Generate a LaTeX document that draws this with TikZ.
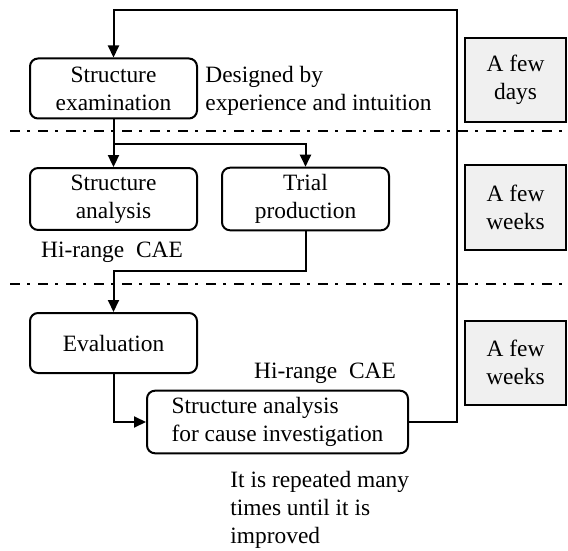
\documentclass[tikz,border=0pt]{standalone}
\usepackage{fontspec}
\setmainfont{Liberation Serif}
\usetikzlibrary{arrows.meta,positioning}
\definecolor{periodgray}{HTML}{F0F0F0}

\begin{document}
\begin{tikzpicture}[
  x=0.5pt, y=-0.5pt,
  block/.style={
    draw, line width=1pt, rounded corners=4pt, align=center,
    minimum width=83.5pt, minimum height=30pt, font=\fontsize{11.7pt}{14pt}\selectfont
  },
  period/.style={
    draw, line width=1pt, fill=periodgray, align=center,
    minimum width=50.5pt, minimum height=42pt, font=\fontsize{11.7pt}{14pt}\selectfont
  },
  note/.style={inner sep=0pt, align=left, font=\fontsize{11.7pt}{14pt}\selectfont},
  arrow/.style={-{Triangle[length=6pt,width=5.5pt]}, line width=1pt},
  phase/.style={line width=1pt, dash pattern=on 5pt off 3.5pt on 1.5pt off 4pt}
]
\useasboundingbox (0,0) rectangle (568,551);

% process blocks
\node[block] (exam) at (113.5,88.5) {Structure\\examination};
\node[block] (analysis) at (113.5,199) {Structure\\analysis};
\node[block, right=11.5pt of analysis] (trial) {Trial\\production};
\node[block] (eval) at (113.5,343) {Evaluation};
\node[block, align=left, minimum width=130.5pt] (cause) at (277.5,422) {Structure analysis\\for cause investigation};

% notes
\node[note, anchor=west] (intuition) at (205,91) {Designed by\\experience and intuition};
\node[note] (cae1) at (112,252) {Hi-range\enspace CAE};
\node[note] (cae2) at (325,373) {Hi-range\enspace CAE};
\node[note, anchor=west] (repeat) at (230,510) {It is repeated many\\times until it is\\improved};

% time scale
\node[period] (days) at (515.5,80) {A few\\days};
\node[period] (weeks1) at (515.5,207.5) {A few\\weeks};
\node[period] (weeks2) at (515.5,362.5) {A few\\weeks};

% phase borders
\draw[phase] (10,131) -- (568,131);
\draw[phase] (10,284) -- (568,284);

% flow
\coordinate (loop) at (457,10);
\coordinate (split) at (113.5,144);
\coordinate (merge) at (113.5,271);
\draw[arrow] (cause.east) -| (loop) -| (exam.north);
\draw[arrow] (exam) -- (analysis);
\draw[arrow] (split) -| (trial.north);
\draw[arrow] (trial.south) |- (merge) -- (eval.north);
\draw[arrow] (eval.south) |- (cause.west);
\end{tikzpicture}
\end{document}
